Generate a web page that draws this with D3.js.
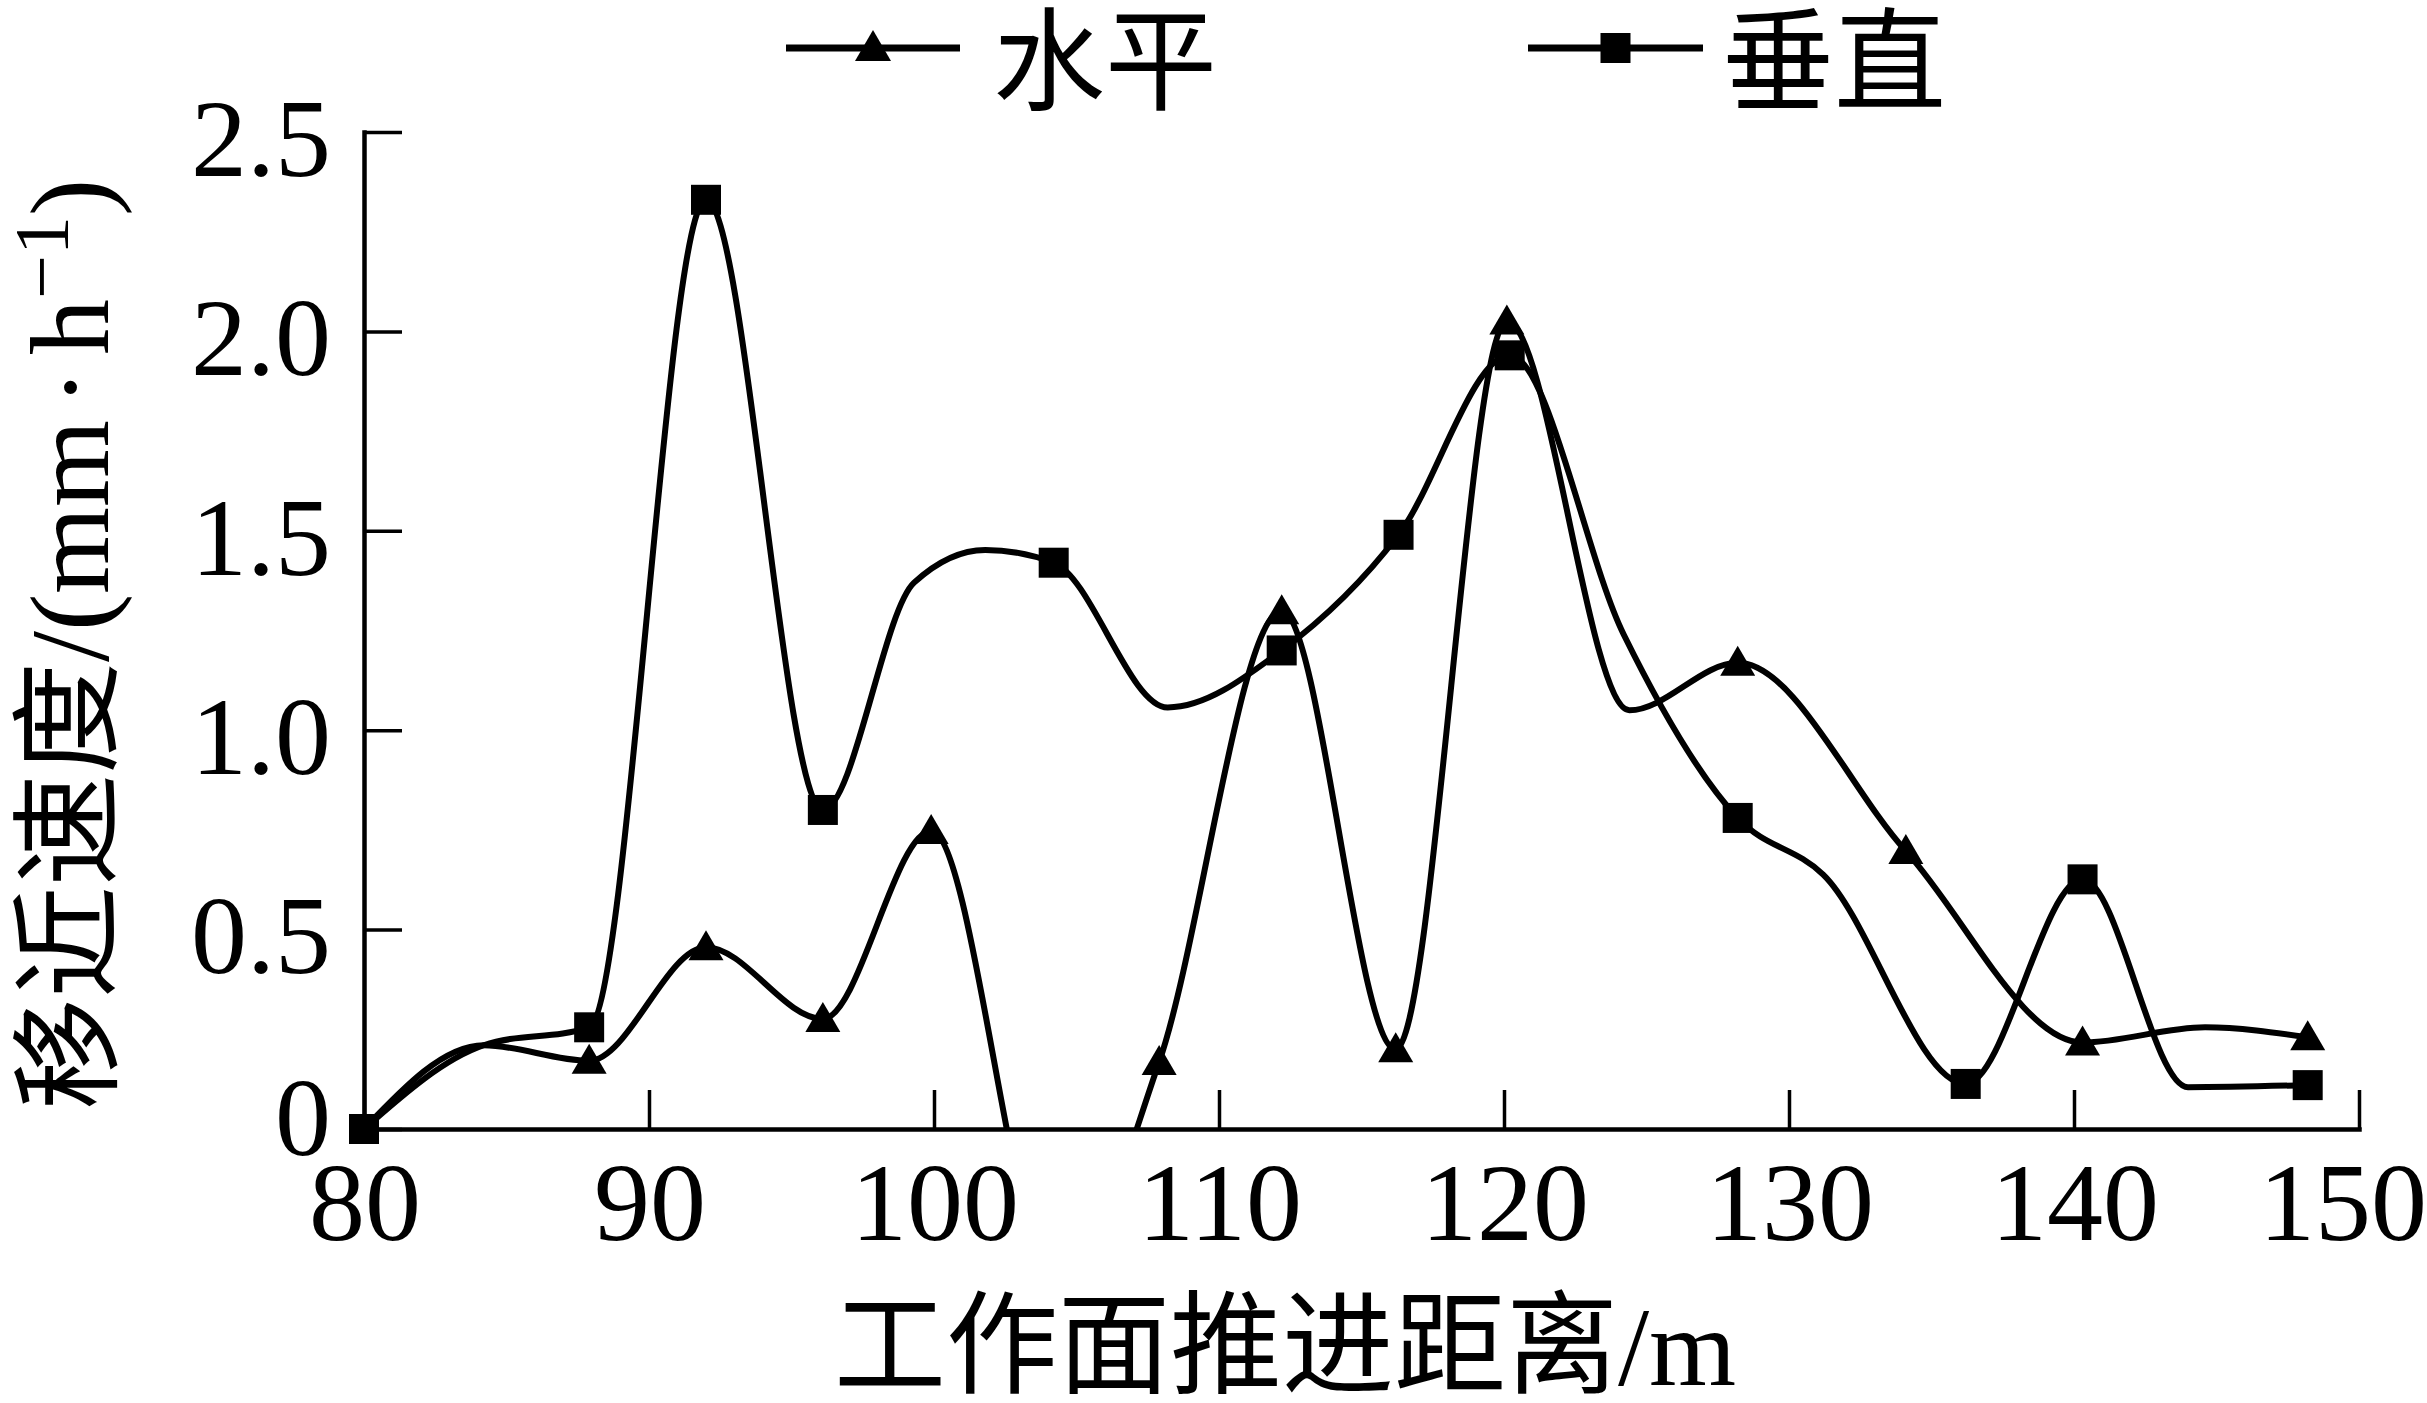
<!DOCTYPE html>
<html>
<head>
<meta charset="utf-8">
<script src="https://cdn.jsdelivr.net/npm/d3@7"></script>
<style>
  @font-face {
    font-family: "SerifTight";
    src: local("Liberation Serif"), local("LiberationSerif"), local("Liberation Serif Regular");
    ascent-override: 70%; descent-override: 5%; line-gap-override: 0%;
  }
  @font-face {
    font-family: "CJKTight";
    src: local("Noto Sans CJK SC"), local("Noto Sans CJK SC Regular"), local("NotoSansCJKsc-Regular");
    ascent-override: 88%; descent-override: 12%; line-gap-override: 0%;
  }
  html, body { margin: 0; padding: 0; background: #ffffff; }
  svg { display: block; }
</style>
</head>
<body>
<svg id="chart" width="2427" height="1403"></svg>
<script>
// ---------------- data ----------------
const seriesNames = ["水平", "垂直"];

// 水平 (triangles). Knots flagged 0 are points the curve passes through without a drawn marker.
const horizX      = [80, 84.2, 87.9, 92.0, 96.1, 99.9, 104.3, 107.9, 112.2, 116.2, 120.1, 124.4, 128.2, 134.1, 140.3, 144.6, 148.2];
const horizY      = [0, 0.21, 0.171, 0.456, 0.276, 0.747, -0.40, 0.168, 1.298, 0.20, 2.025, 1.05, 1.169, 0.697, 0.217, 0.255, 0.230];
const horizMarked = [0, 0, 1, 1, 1, 1, 0, 1, 1, 1, 1, 0, 1, 1, 1, 0, 1];

// 垂直 (squares)
const vertX      = [80, 84.2, 87.9, 92.0, 96.1, 99.3, 101.8, 104.2, 108.2, 112.2, 116.3, 120.2, 124.2, 128.2, 131.2, 136.2, 140.3, 144.0, 148.2];
const vertY      = [0, 0.21, 0.255, 2.33, 0.80, 1.37, 1.452, 1.42, 1.057, 1.20, 1.49, 1.94, 1.24, 0.78, 0.638, 0.113, 0.626, 0.105, 0.110];
const vertMarked = [1, 0, 1, 1, 1, 0, 0, 1, 0, 1, 1, 1, 0, 1, 0, 1, 1, 0, 1];

const xTickValues = [80, 90, 100, 110, 120, 130, 140, 150];
const yTickValues = [0, 0.5, 1.0, 1.5, 2.0, 2.5];
const yTickLabels = ["0", "0.5", "1.0", "1.5", "2.0", "2.5"];
const xDomain = [80, 150];
const yDomain = [0, 2.5];
const xTitle = "工作面推进距离/m";
const yTitleMain = "移近速度/(mm";
const yTitleDot = "·";
const yTitleUnit = "h";
const yTitleSup = "−1";
const yTitleEnd = ")";

// ---------------- drawing ----------------
const W = 2427, H = 1403;
const plot = { left: 364, right: 2359, top: 132, bottom: 1129 };
const serif = "SerifTight,'Liberation Serif','Times New Roman',CJKTight,'Noto Sans CJK SC',serif";
const cjk = "CJKTight,'Noto Sans CJK SC',sans-serif";

const svg = d3.select("#chart");
svg.append("rect").attr("width", W).attr("height", H).attr("fill", "#fff");

const x = d3.scaleLinear().domain(xDomain).range([plot.left, plot.right]);
const y = d3.scaleLinear().domain(yDomain).range([plot.bottom, plot.top]);

// axes
const xAxis = d3.axisBottom(x).tickValues(xTickValues).tickSize(-39).tickSizeOuter(0).tickFormat(d3.format("d"));
const gx = svg.append("g").attr("transform", `translate(0,${plot.bottom})`).call(xAxis);
gx.select(".domain").attr("stroke", "#000").attr("stroke-width", 4.5);
gx.selectAll(".tick line").attr("stroke", "#000").attr("stroke-width", 3.5);
const lastX = xTickValues[xTickValues.length - 1];
gx.selectAll(".tick text")
  .attr("y", 111).attr("dy", 0)
  .attr("font-family", serif).attr("font-size", 112).attr("fill", "#000")
  .attr("text-anchor", d => d === lastX ? "end" : "middle")
  .attr("x", d => d === lastX ? (W - 1) - x(d) : 0);

const yAxis = d3.axisLeft(y).tickValues(yTickValues).tickSize(-38).tickSizeOuter(0)
  .tickFormat((d, i) => yTickLabels[i]);
const gy = svg.append("g").attr("transform", `translate(${plot.left},0)`).call(yAxis);
gy.select(".domain").attr("stroke", "#000").attr("stroke-width", 4.5);
gy.selectAll(".tick line").attr("stroke", "#000").attr("stroke-width", 3.5);
gy.selectAll(".tick text")
  .attr("x", -33).attr("dy", "0.35em")
  .attr("y", d => d === 0 ? -14 : 4)
  .attr("font-family", serif).attr("font-size", 112).attr("fill", "#000");
svg.selectAll(".domain").attr("stroke-linecap", "square");

// clip for curves (values below zero are cut at the axis)
svg.append("clipPath").attr("id", "plotClip")
  .append("rect")
  .attr("x", plot.left).attr("y", 0)
  .attr("width", plot.right - plot.left + 40).attr("height", plot.bottom);

const line = d3.line().x(d => x(d.x)).y(d => y(d.y)).curve(d3.curveMonotoneX);

const horiz = horizX.map((v, i) => ({ x: v, y: horizY[i], m: horizMarked[i] }));
const vert = vertX.map((v, i) => ({ x: v, y: vertY[i], m: vertMarked[i] }));

const curves = svg.append("g").attr("clip-path", "url(#plotClip)");
[horiz, vert].forEach(data => {
  curves.append("path").datum(data)
    .attr("d", line)
    .attr("fill", "none").attr("stroke", "#000").attr("stroke-width", 6)
    .attr("stroke-linejoin", "round");
});

// markers
const triPath = "M0,-17 L17.5,13 L-17.5,13 Z";
svg.append("g").selectAll("path.tri")
  .data(horiz.filter(d => d.m))
  .join("path").attr("class", "tri")
  .attr("d", triPath)
  .attr("transform", d => `translate(${x(d.x)},${y(d.y)})`)
  .attr("fill", "#000");

svg.append("g").selectAll("rect.sq")
  .data(vert.filter(d => d.m))
  .join("rect").attr("class", "sq")
  .attr("x", d => x(d.x) - 15).attr("y", d => y(d.y) - 15)
  .attr("width", 30).attr("height", 30)
  .attr("fill", "#000");

// legend
const legend = svg.append("g");
const legendItems = [
  { name: seriesNames[0], x0: 786, x1: 960, shape: "tri", tx: 993 },
  { name: seriesNames[1], x0: 1528, x1: 1703, shape: "sq", tx: 1722 }
];
const ly = 48;
legendItems.forEach(it => {
  legend.append("line").attr("x1", it.x0).attr("x2", it.x1).attr("y1", ly).attr("y2", ly)
    .attr("stroke", "#000").attr("stroke-width", 7);
  const cx = (it.x0 + it.x1) / 2;
  if (it.shape === "tri") {
    legend.append("path").attr("d", "M0,-16 L18,15 L-18,15 Z")
      .attr("transform", `translate(${cx},${ly - 2})`).attr("fill", "#000");
  } else {
    legend.append("rect").attr("x", cx - 15).attr("y", ly - 15).attr("width", 30).attr("height", 30).attr("fill", "#000");
  }
  legend.append("text").attr("x", it.tx).attr("y", 102)
    .attr("font-family", cjk).attr("font-size", 112).attr("fill", "#000")
    .text(it.name);
});

// x title
svg.append("text")
  .attr("x", 1285).attr("y", 1385)
  .attr("text-anchor", "middle")
  .attr("font-family", serif).attr("font-size", 112).attr("fill", "#000")
  .text(xTitle);

// y title (rotated)
const yt = svg.append("text")
  .attr("transform", "translate(70,644) rotate(-90)")
  .attr("y", 38)
  .attr("text-anchor", "middle")
  .attr("font-family", serif).attr("font-size", 112).attr("fill", "#000");
yt.append("tspan").text(yTitleMain);
yt.append("tspan").attr("dx", 14).text(yTitleDot);
yt.append("tspan").attr("dx", 14).text(yTitleUnit);
yt.append("tspan").attr("dy", -40).attr("font-size", 78).text(yTitleSup);
yt.append("tspan").attr("dy", 40).text(yTitleEnd);
</script>
</body>
</html>
